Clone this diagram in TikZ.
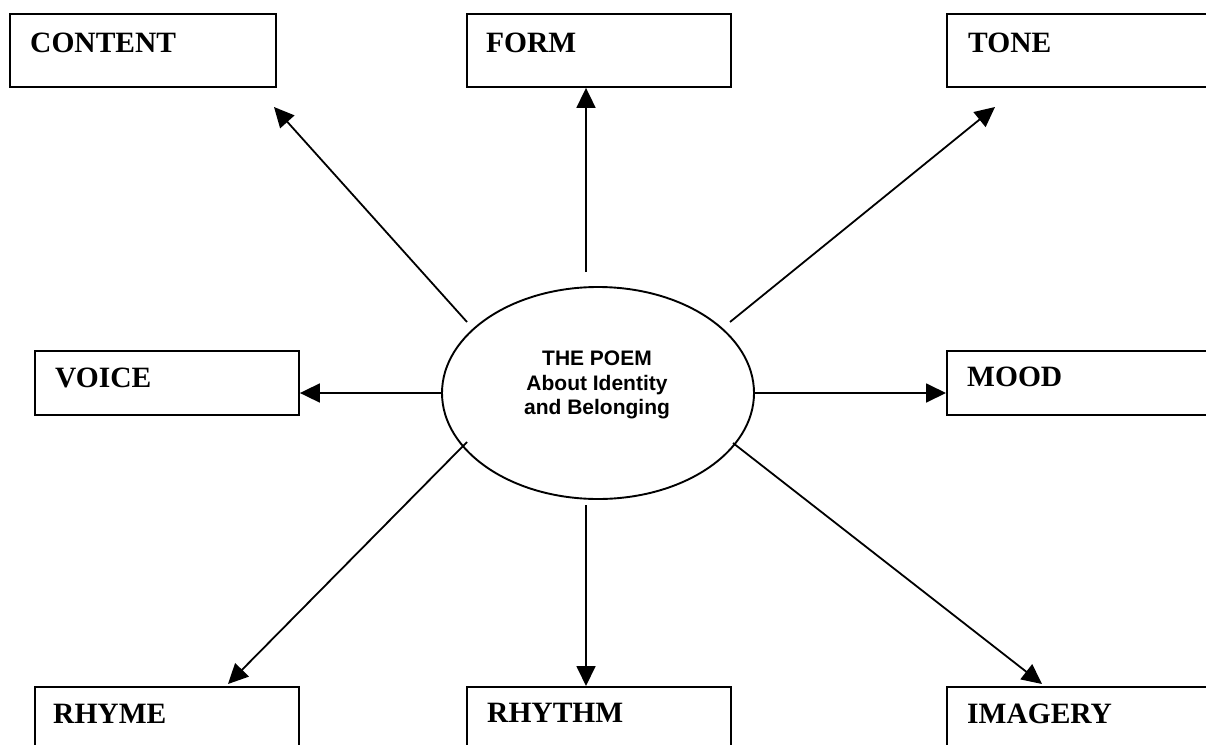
\documentclass[tikz,border=0pt]{standalone}
\usepackage{fontspec}
\setmainfont{Liberation Serif}
\newfontfamily\arialfont{Liberation Sans}
\usetikzlibrary{arrows.meta,shapes.geometric}
\tikzset{
  boxnode/.style={draw=black,line width=1.9pt,rectangle,anchor=north west,inner sep=0pt,minimum height=73pt},
  boxlabel/.style={anchor=base west,inner sep=0pt,font=\fontsize{29.5}{34}\selectfont\bfseries},
  arr/.style={line width=1.8pt,-{Triangle[length=20pt,width=19pt]}},
  poem/.style={draw=black,line width=1.9pt,ellipse,minimum width=312pt,minimum height=212pt,inner sep=0pt},
  poemtext/.style={align=center,inner sep=0pt,font=\arialfont\bfseries\fontsize{21}{24.5}\selectfont}
}
\begin{document}
\begin{tikzpicture}[x=1pt,y=-1pt]
\useasboundingbox (0,0) rectangle (1206,744);
\clip (0,0) rectangle (1206,744);
\fill[white] (0,0) rectangle (1206,744);
% boxes
\node[boxnode,minimum width=266pt] (content) at (9,13) {};
\node[boxnode,minimum width=264pt] (form) at (466,13) {};
\node[boxnode,minimum width=300pt] (tone) at (946,13) {};
\node[boxnode,minimum width=264pt,minimum height=64pt] (voice) at (34,350) {};
\node[boxnode,minimum width=300pt,minimum height=64pt] (mood) at (946,350) {};
\node[boxnode,minimum width=264pt] (rhyme) at (34,686) {};
\node[boxnode,minimum width=264pt] (rhythm) at (466,686) {};
\node[boxnode,minimum width=300pt] (imagery) at (946,686) {};
% labels
\node[boxlabel] (contentL) at (30,52) {CONTENT};
\node[boxlabel] (formL) at (486,52) {FORM};
\node[boxlabel] (toneL) at (968,52) {TONE};
\node[boxlabel] (voiceL) at (55,387) {VOICE};
\node[boxlabel] (moodL) at (967,386) {MOOD};
\node[boxlabel] (rhymeL) at (53,723) {RHYME};
\node[boxlabel] (rhythmL) at (487,722) {RHYTHM};
\node[boxlabel] (imageryL) at (967,723) {IMAGERY};
% centre
\node[poem] (poem) at (598,393) {};
\node[poemtext] (poemT) at (597,385) {THE POEM\\About Identity\\and Belonging};
% connector ends
\coordinate (sContent) at (467,322);
\coordinate (tContent) at (274,107);
\coordinate (sForm) at (586,272);
\coordinate (sTone) at (730,322);
\coordinate (tTone) at (995,107);
\coordinate (sVoice) at (441,393);
\coordinate (sMood) at (755,393);
\coordinate (sRhyme) at (467,442);
\coordinate (tRhyme) at (228,684);
\coordinate (sRhythm) at (586,505);
\coordinate (sImagery) at (733,443);
\coordinate (tImagery) at (1042,684);
% connectors
\draw[arr] (sContent) -- (tContent);
\draw[arr] (sForm) -- (form.south -| sForm);
\draw[arr] (sTone) -- (tTone);
\draw[arr] (sVoice) -- (voice.east |- sVoice);
\draw[arr] (sMood) -- (mood.west |- sMood);
\draw[arr] (sRhyme) -- (tRhyme);
\draw[arr] (sRhythm) -- (rhythm.north -| sRhythm);
\draw[arr] (sImagery) -- (tImagery);
\end{tikzpicture}
\end{document}
